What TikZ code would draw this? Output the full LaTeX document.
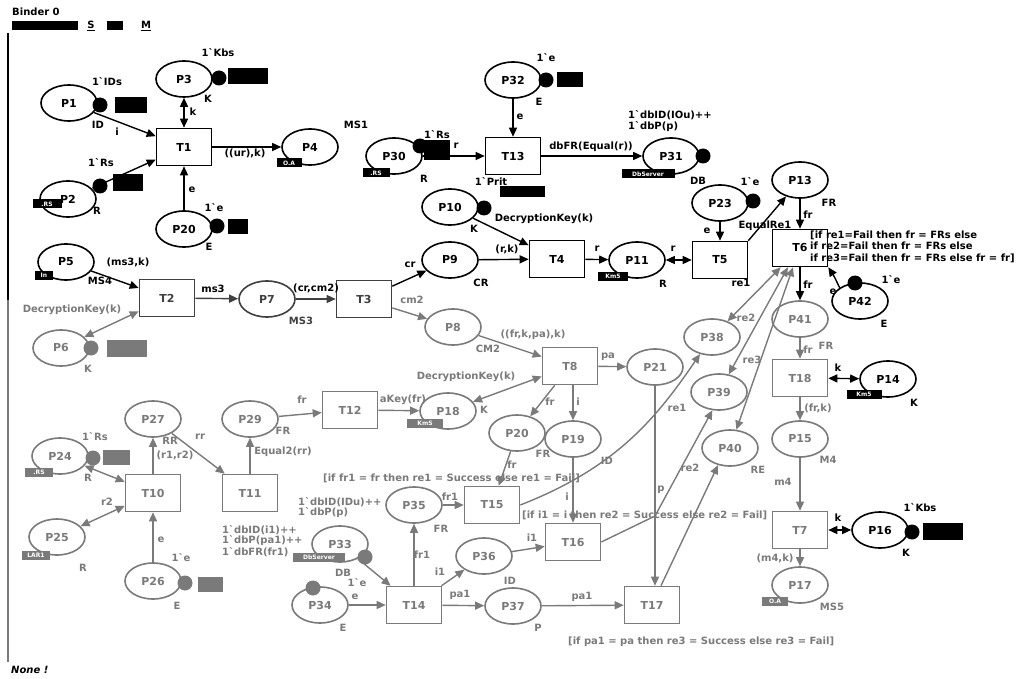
\documentclass[tikz,border=0pt]{standalone}
\usepackage{fontspec}
\usepackage{xcolor}
\usepackage{tikz}
\usetikzlibrary{shapes.geometric, arrows.meta, positioning}
\newfontfamily\cpnfont{DejaVu Sans}
\newcommand{\lbl}{\cpnfont\bfseries\fontsize{10}{11}\selectfont}
\newcommand{\nodef}{\cpnfont\bfseries\fontsize{11}{12}\selectfont}
\newcommand{\tagf}{\cpnfont\bfseries\fontsize{6}{7}\selectfont}
\definecolor{pale}{gray}{0.48}
\definecolor{dark}{gray}{0.25}

\begin{document}
\begin{tikzpicture}[x=1pt, y=-1pt, >={Triangle[length=9pt,width=8pt]},
    placenode/.style={ellipse, draw, line width=1.6pt, minimum width=56pt, minimum height=36pt, inner sep=0pt, font=\nodef, fill=white},
    transnode/.style={rectangle, draw, line width=1.6pt, minimum width=55pt, minimum height=37pt, inner sep=0pt, font=\nodef, fill=white},
    tokendot/.style={circle, fill, inner sep=0pt, minimum size=15pt},
    countbox/.style={rectangle, fill, inner sep=0pt},
    tagbox/.style={rectangle, fill, text=white, font=\tagf, inner sep=1pt, minimum height=9pt},
    txt/.style={font=\lbl, inner sep=0pt},
    faint/.style={draw=pale, text=pale},
    darker/.style={draw=dark, text=dark},
    flow/.style={->, line width=1.4pt},
    flowtwo/.style={<->, line width=1.4pt}]
    \useasboundingbox[fill=white] (0,0) rectangle (1020,679);

    % 1. Khung trang
    \node[txt, anchor=west] (binder) at (12,12) {Binder 0};
    \node[countbox, minimum width=66pt, minimum height=9pt] (tabbar) at (45,26) {};
    \node[txt] (tabs) at (91,26) {\underline{S}};
    \node[countbox, minimum width=16pt, minimum height=9pt] (tabid) at (115,26) {};
    \node[txt] (tabm) at (146,26) {\underline{M}};
    \draw[line width=1.4pt] (8,33) -- (8,300);
    \draw[line width=1.4pt, pale] (8,300) -- (8,662);
    \node[txt, anchor=west, font=\lbl\itshape] (none) at (11,670) {None !};

    % 2. Place
    \foreach \i/\x/\y in {1/69/103, 2/68/199, 3/184/79, 4/310/147, 20/184/229, 5/66/262,
        30/394/156, 32/513/80, 31/671/156, 10/450/207, 9/450/260, 11/637/260,
        23/720/203, 13/800/180, 42/860/301, 14/888/379, 16/880/530}
        \node[placenode] (p\i) at (\x,\y) {P\i};
    \node[placenode, darker] (p7) at (267,299) {P7};
    \foreach \i/\x/\y in {6/61/348, 8/453/327, 18/448/411, 21/655/367, 38/712/337,
        39/719/392, 40/730/448, 41/800/319, 15/800/439, 17/800/585, 19/573/439,
        27/153/419, 29/250/419, 24/60/456, 25/57/537, 26/153/581, 33/340/544,
        34/320/605, 35/414/505, 36/484/556, 37/513/606}
        \node[placenode, faint] (p\i) at (\x,\y) {P\i};
    \node[placenode, faint] (p20b) at (517,433) {P20};

    % 3. Transition
    \foreach \i/\x/\y in {1/184/147, 13/513/156, 4/557/259, 5/720/260, 6/800/248}
        \node[transnode] (t\i) at (\x,\y) {T\i};
    \foreach \i/\x/\y in {2/167/298, 3/364/299}
        \node[transnode, darker] (t\i) at (\x,\y) {T\i};
    \foreach \i/\x/\y in {8/570/366, 12/350/410, 10/153/493, 11/250/493, 14/414/605,
        15/492/505, 16/573/542, 17/652/605, 18/800/378, 7/800/530}
        \node[transnode, faint] (t\i) at (\x,\y) {T\i};

    % 4. Token va o dem
    \foreach \n/\x/\y in {1/100/105, 3/219/78, 2/100/186, 20/217/226, 30/420/146,
        32/546/80, 31/703/156, 10/484/208, 23/753/201, 42/855/283, 16/912/532}
        \node[tokendot] (k\n) at (\x,\y) {};
    \foreach \n/\x/\y in {6/91/348, 24/93/458, 26/185/583, 33/365/557, 34/313/588}
        \node[tokendot, fill=pale] (k\n) at (\x,\y) {};
    \foreach \n/\x/\y/\w/\h in {1/131/105/32/16, 3/248/76/40/16, 2/128/183/30/17,
        20/238/227/20/15, 30/437/150/26/20, 32/570/80/26/15, 10/522/192/45/11,
        16/943/531/40/17}
        \node[countbox, minimum width=\w pt, minimum height=\h pt] (c\n) at (\x,\y) {};
    \foreach \n/\x/\y/\w/\h in {6/127/348/40/17, 24/116/457/27/15, 26/210/584/25/15}
        \node[countbox, fill=pale, minimum width=\w pt, minimum height=\h pt] (c\n) at (\x,\y) {};

    % 5. The
    \node[tagbox, minimum width=29pt] (g2) at (47,204) {.RS};
    \node[tagbox, minimum width=25pt] (g4) at (289,163) {O.A};
    \node[tagbox, minimum width=27pt] (g30) at (376,173) {.RS};
    \node[tagbox, minimum width=18pt] (g5) at (44,275) {In};
    \node[tagbox, minimum width=53pt] (g31) at (648,174) {DbServer};
    \node[tagbox, minimum width=30pt] (g11) at (613,276) {Km5};
    \node[tagbox, minimum width=35pt] (g14) at (864,394) {Km5};
    \node[tagbox, fill=pale, minimum width=36pt] (g18) at (425,423) {KmS};
    \node[tagbox, fill=pale, minimum width=26pt] (g17) at (775,601) {O.A};
    \node[tagbox, fill=pale, minimum width=28pt] (g24) at (39,472) {.RS};
    \node[tagbox, fill=pale, minimum width=28pt] (g25) at (36,555) {LAR1};
    \node[tagbox, fill=pale, minimum width=52pt] (g33) at (319,557) {DbServer};

    % 6. Cung
    \draw[flow] (p1) -- (t1);
    \draw[flowtwo] (p2) -- (t1);
    \draw[flowtwo] (p3) -- (t1);
    \draw[flow] (p20) -- (t1);
    \draw[flow] (t1) -- (p4);
    \draw[flow] (p5) -- (t2);
    \draw[flow, dark] (t2) -- (p7);
    \draw[flow, dark] (p7) -- (t3);
    \draw[flow] (t3) -- (p9);
    \draw[flow] (p9) -- (t4);
    \draw[flow] (p10) -- (t4);
    \draw[flow] (p30) -- (t13);
    \draw[flow] (p32) -- (t13);
    \draw[flow] (t13) -- (p31);
    \draw[flow] (t4) -- (p11);
    \draw[flowtwo] (p11) -- (t5);
    \draw[flow] (p23) -- (t5);
    \draw[flow] (t5.north east) -- (p13);
    \draw[flow] (p13) -- (t6);
    \draw[flow] (p42.north west) .. controls (834,276) .. (t6.south east);
    \draw[flow] (t6) -- (p41);
    \draw[flowtwo] (t18) -- (p14);
    \draw[flowtwo] (t7) -- (p16);
    \draw[flowtwo, pale] (p6) -- (t2);
    \draw[flow, pale] (t3) -- (p8);
    \draw[flow, pale] (p8) -- (t8);
    \draw[flowtwo, pale] (p18) -- (t8);
    \draw[flow, pale] (t8) -- (p21);
    \draw[flow, pale] (t8) -- (p20b);
    \draw[flow, pale] (t8.south -| p19) -- (p19);
    \draw[flow, pale] (p21.south) -- (p21.south |- t17.north);
    \draw[flow, pale] (p19) -- (t16);
    \draw[flow, pale] (p20b) -- (t15);
    \draw[flow, pale] (p35) -- (t15);
    \draw[flow, pale] (t14) -- (p35);
    \draw[flow, pale] (t14) -- (p36);
    \draw[flow, pale] (t14) -- (p37);
    \draw[flow, pale] (p34) -- (t14);
    \draw[flow, pale] (p33) -- (t14);
    \draw[flow, pale] (p36) -- (t16);
    \draw[flow, pale] (p37) -- (t17);
    \draw[flow, pale] (t15.east) .. controls (615,468) and (655,420) .. (p38.235);
    \coordinate (bend16) at (655,516);
    \draw[flow, pale] (t16.east) -- (bend16) -- (p39.250);
    \draw[flow, pale] (t17.65) -- (p40.235);
    \draw[flowtwo, pale] (p38) -- (t6.-135);
    \draw[flowtwo, pale] (p39) -- (t6.-122);
    \draw[flowtwo, pale] (p40) -- (t6.-110);
    \draw[flow, pale] (p41) -- (t18);
    \draw[flow, pale] (t18) -- (p15);
    \draw[flow, pale] (p15) -- (t7);
    \draw[flow, pale] (t7) -- (p17);
    \draw[flowtwo, pale] (p24) -- (t10);
    \draw[flowtwo, pale] (p25) -- (t10);
    \draw[flow, pale] (p26) -- (t10);
    \draw[flow, pale] (t10) -- (p27);
    \draw[flow, pale] (p27) -- (t11);
    \draw[flow, pale] (t11) -- (p29);
    \draw[flow, pale] (p29) -- (t12);
    \draw[flow, pale] (t12) -- (p18);

    % 7. Nhan cung
    \node[txt] (ai) at (117,132) {i};
    \node[txt] (ak1) at (193,112) {k};
    \node[txt] (ae1) at (192,190) {e};
    \node[txt] (aurk) at (245,153) {((ur),k)};
    \node[txt] (ams3k) at (128,262) {(ms3,k)};
    \node[txt] (ams3) at (213,289) {ms3};
    \node[txt] (acrcm) at (316,288) {(cr,cm2)};
    \node[txt] (acr) at (410,265) {cr};
    \node[txt] (ark) at (507,249) {(r,k)};
    \node[txt] (adk1) at (544,219) {DecryptionKey(k)};
    \node[txt] (ar30) at (456,146) {r};
    \node[txt] (ae32) at (520,117) {e};
    \node[txt] (adbfr) at (591,147) {dbFR(Equal(r))};
    \node[txt] (ar4) at (597,249) {r};
    \node[txt] (ar5) at (673,249) {r};
    \node[txt] (ae23) at (707,231) {e};
    \node[txt] (aeqre) at (765,226) {EqualRe1};
    \node[txt] (afr13) at (808,215) {fr};
    \node[txt] (ae42) at (833,292) {e};
    \node[txt] (afr6) at (808,285) {fr};
    \node[txt] (ak14) at (838,368) {k};
    \node[txt] (ak16) at (838,518) {k};
    \node[txt, pale] (adk2) at (72,310) {DecryptionKey(k)};
    \node[txt, pale] (acm2) at (412,300) {cm2};
    \node[txt, pale] (afr41) at (808,350) {fr};
    \node[txt, pale] (afrk) at (818,408) {(fr,k)};
    \node[txt, pale] (am4) at (783,482) {m4};
    \node[txt, pale] (am4k) at (775,558) {(m4,k)};
    \node[txt, pale] (ar2) at (107,502) {r2};
    \node[txt, pale] (ae26) at (161,540) {e};
    \node[txt, pale] (ar12) at (175,455) {(r1,r2)};
    \node[txt, pale] (arr) at (200,437) {rr};
    \node[txt, pale] (aeq) at (283,452) {Equal2(rr)};
    \node[txt, pale] (afr29) at (302,400) {fr};
    \node[txt, pale] (akfr) at (403,400) {aKey(fr)};
    \node[txt, pale] (afrkpa) at (533,335) {((fr,k,pa),k)};
    \node[txt, pale] (adk3) at (466,377) {DecryptionKey(k)};
    \node[txt, pale] (apa) at (608,357) {pa};
    \node[txt, pale] (afr8) at (550,402) {fr};
    \node[txt, pale] (ai8) at (578,402) {i};
    \node[txt, pale] (ap21) at (661,490) {p};
    \node[txt, pale] (ai19) at (567,497) {i};
    \node[txt, pale] (afr20) at (512,465) {fr};
    \node[txt, pale] (afr1a) at (450,497) {fr1};
    \node[txt, pale] (afr1b) at (422,555) {fr1};
    \node[txt, pale] (ai1a) at (440,572) {i1};
    \node[txt, pale] (apa1a) at (460,595) {pa1};
    \node[txt, pale] (ae34) at (355,597) {e};
    \node[txt, pale] (ai1b) at (532,538) {i1};
    \node[txt, pale] (apa1b) at (582,597) {pa1};
    \node[txt, pale] (are1) at (677,408) {re1};
    \node[txt, pale] (are2) at (690,468) {re2};
    \node[txt] (are1b) at (741,283) {re1};
    \node[txt, pale] (are2b) at (746,318) {re2};
    \node[txt, pale] (are3b) at (752,360) {re3};

    % 8. Kieu mau
    \node[txt] (cs1) at (98,125) {ID};
    \node[txt] (cs3) at (208,99) {K};
    \node[txt] (cs2) at (97,211) {R};
    \node[txt] (cs20) at (209,247) {E};
    \node[txt] (cs4) at (356,125) {MS1};
    \node[txt] (cs30) at (424,179) {R};
    \node[txt] (cs32) at (539,102) {E};
    \node[txt] (cs31) at (698,181) {DB};
    \node[txt] (cs9) at (481,283) {CR};
    \node[txt] (cs11) at (663,284) {R};
    \node[txt] (cs13) at (829,203) {FR};
    \node[txt] (cs42) at (884,324) {E};
    \node[txt] (cs14) at (914,403) {K};
    \node[txt] (cs16) at (906,553) {K};
    \node[txt] (cs5) at (100,281) {MS4};
    \node[txt] (cs10) at (474,229) {K};
    \node[txt, pale] (cs6) at (88,369) {K};
    \node[txt, dark] (cs7) at (301,321) {MS3};
    \node[txt, pale] (cs8) at (488,349) {CM2};
    \node[txt, pale] (cs18) at (484,410) {K};
    \node[txt, pale] (cs41) at (826,346) {FR};
    \node[txt, pale] (cs15) at (828,460) {M4};
    \node[txt, pale] (cs17) at (832,607) {MS5};
    \node[txt, pale] (cs27) at (170,441) {RR};
    \node[txt, pale] (cs29) at (283,431) {FR};
    \node[txt, pale] (cs24) at (88,478) {R};
    \node[txt, pale] (cs25) at (83,568) {R};
    \node[txt, pale] (cs26) at (177,606) {E};
    \node[txt, pale] (cs33) at (343,573) {DB};
    \node[txt, pale] (cs34) at (343,628) {E};
    \node[txt, pale] (cs35) at (441,529) {FR};
    \node[txt, pale] (cs36) at (510,581) {ID};
    \node[txt, pale] (cs37) at (538,628) {P};
    \node[txt, pale] (cs19) at (607,461) {ID};
    \node[txt, pale] (cs20b) at (543,454) {FR};
    \node[txt, pale] (cs40) at (758,470) {RE};

    % 9. Danh dau ban dau
    \node[txt] (im1) at (107,82) {1`IDs};
    \node[txt] (im3) at (218,53) {1`Kbs};
    \node[txt] (im2) at (101,163) {1`Rs};
    \node[txt] (im20) at (214,208) {1`e};
    \node[txt] (im30) at (437,135) {1`Rs};
    \node[txt] (im32) at (546,58) {1`e};
    \node[txt, anchor=west] (im31a) at (628,115) {1`dbID(IOu)++};
    \node[txt, anchor=west] (im31b) at (628,127) {1`dbP(p)};
    \node[txt] (im10) at (491,182) {1`Prit};
    \node[txt] (im23) at (750,182) {1`e};
    \node[txt] (im42) at (891,280) {1`e};
    \node[txt] (im16) at (920,508) {1`Kbs};
    \node[txt, pale] (im24) at (95,437) {1`Rs};
    \node[txt, pale] (im26) at (181,558) {1`e};
    \node[txt, pale, anchor=west] (im33a) at (222,530) {1`dbID(i1)++};
    \node[txt, pale, anchor=west] (im33b) at (222,541) {1`dbP(pa1)++};
    \node[txt, pale, anchor=west] (im33c) at (222,552) {1`dbFR(fr1)};
    \node[txt, pale] (im34) at (357,583) {1`e};
    \node[txt, pale, anchor=west] (im35a) at (298,502) {1`dbID(IDu)++};
    \node[txt, pale, anchor=west] (im35b) at (298,513) {1`dbP(p)};

    % 10. Dieu kien canh
    \node[txt, anchor=west] (g6a) at (810,235) {[if re1=Fail then fr = FRs else};
    \node[txt, anchor=west] (g6b) at (810,246) {if re2=Fail then fr = FRs else};
    \node[txt, anchor=west] (g6c) at (810,258) {if re3=Fail then fr = FRs else fr = fr]};
    \node[txt, pale, anchor=west] (g15) at (323,478) {[if fr1 = fr then re1 = Success else re1 = Fail]};
    \node[txt, pale, anchor=west] (g16) at (522,515) {[if i1 = i then re2 = Success else re2 = Fail]};
    \node[txt, pale, anchor=west] (g17) at (568,642) {[if pa1 = pa then re3 = Success else re3 = Fail]};
\end{tikzpicture}
\end{document}
